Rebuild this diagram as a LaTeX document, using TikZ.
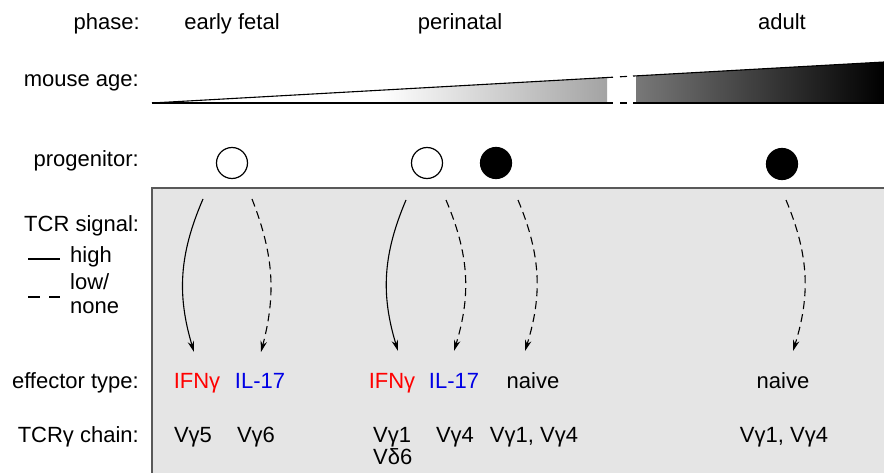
\documentclass[tikz,border=0pt]{standalone}
\usepackage{fontspec}
\setmainfont{Liberation Sans}
\usetikzlibrary{arrows.meta}
\begin{document}
\begin{tikzpicture}[x=1pt,y=-1pt,
  every node/.style={inner sep=0pt, font=\fontsize{22}{26}\selectfont},
  lab/.style={anchor=base east},
  txt/.style={anchor=base},
  lft/.style={anchor=base west},
  prog/.style={circle, draw=black, line width=1.2pt, minimum size=31pt, inner sep=0pt},
  progopen/.style={prog, fill=white},
  progfill/.style={prog, fill=black},
  hisig/.style={draw=black, line width=1.1pt, -{Stealth[length=11pt,width=6.5pt]}},
  losig/.style={hisig, dash pattern=on 8pt off 5pt},
  edge/.style={draw=black, line width=1.1pt},
  legline/.style={draw=black, line width=1.3pt},
  ifn/.style={txt, text=red},
  il/.style={txt, text=blue!90!black},
]
\useasboundingbox (0,0) rectangle (884,473);
\fill[white] (0,0) rectangle (884,473);

% gray panel
\draw[fill=black!10, draw=black!65, line width=1.5pt] (152,480) -- (152,188) -- (890,188) -- (890,480) -- cycle;

% age wedge
\shade[left color=white, right color=black!36, middle color=white] (152,103) -- (607,77.5) -- (607,103) -- cycle;
\shade[left color=black!53, right color=black] (636.7,75.85) -- (884,62) -- (884,103) -- (636.7,103) -- cycle;
\draw[edge] (152,103) -- (613,77.2);
\draw[edge] (620,76.8) -- (627,76.4);
\draw[edge] (633,76.05) -- (884,62);
\draw[edge] (152,103) -- (613,103);
\draw[edge] (620,103) -- (627,103);
\draw[edge] (633,103) -- (884,103);

% row labels
\node[lab] (lphase) at (140,30) {phase:};
\node[lab] (lage) at (139,87) {mouse age:};
\node[lab] (lprog) at (139,167) {progenitor:};
\node[lft] (lsig) at (24,232) {TCR signal:};
\node[lft] (lhigh) at (70,263) {high};
\node[lft] (llow) at (70,290) {low/};
\node[lft] (lnone) at (70,313) {none};
\draw[legline] (28,259) -- (60,259);
\draw[legline] (28,297) -- (40,297);
\draw[legline] (49,297) -- (60,297);
\node[lab] (leff) at (139,388) {effector type:};
\node[lab] (ltcr) at (139,442) {TCRγ chain:};

% phases
\node[txt] (ph1) at (232,30) {early fetal};
\node[txt] (ph2) at (460,30) {perinatal};
\node[txt] (ph3) at (782,30) {adult};

% progenitors
\node[progopen] (p1) at (232,163) {};
\node[progopen] (p2) at (427,163) {};
\node[progfill] (p3) at (496,163) {};
\node[progfill] (p4) at (782,164) {};

% effector types
\node[ifn] (e1) at (197,388) {IFNγ};
\node[il] (e2) at (260,388) {IL-17};
\node[ifn] (e3) at (392,388) {IFNγ};
\node[il] (e4) at (454,388) {IL-17};
\node[txt] (e5) at (533,388) {naive};
\node[txt] (e6) at (783,388) {naive};

% TCR chains
\node[txt] (c1) at (193,442) {Vγ5};
\node[txt] (c2) at (256,442) {Vγ6};
\node[lft] (c3) at (373,442) {Vγ1};
\node[lft] (c3b) at (373,464) {Vδ6};
\node[txt] (c4) at (455,442) {Vγ4};
\node[txt] (c5) at (534,442) {Vγ1, Vγ4};
\node[txt] (c6) at (784,442) {Vγ1, Vγ4};

% arrow end points
\coordinate (s1) at (203,199); \coordinate (t1) at (194,352);
\coordinate (s2) at (252,199); \coordinate (t2) at (261,352);
\coordinate (s3) at (406,200); \coordinate (t3) at (398,351);
\coordinate (s4) at (446,200); \coordinate (t4) at (454,351);
\coordinate (s5) at (518,200); \coordinate (t5) at (525,351);
\coordinate (s6) at (786,200); \coordinate (t6) at (793,351);

\draw[hisig] (s1) to[bend right=20] (t1);
\draw[losig] (s2) to[bend left=18] (t2);
\draw[hisig] (s3) to[bend right=20] (t3);
\draw[losig] (s4) to[bend left=20] (t4);
\draw[losig] (s5) to[bend left=20] (t5);
\draw[losig] (s6) to[bend left=20] (t6);
\end{tikzpicture}
\end{document}
